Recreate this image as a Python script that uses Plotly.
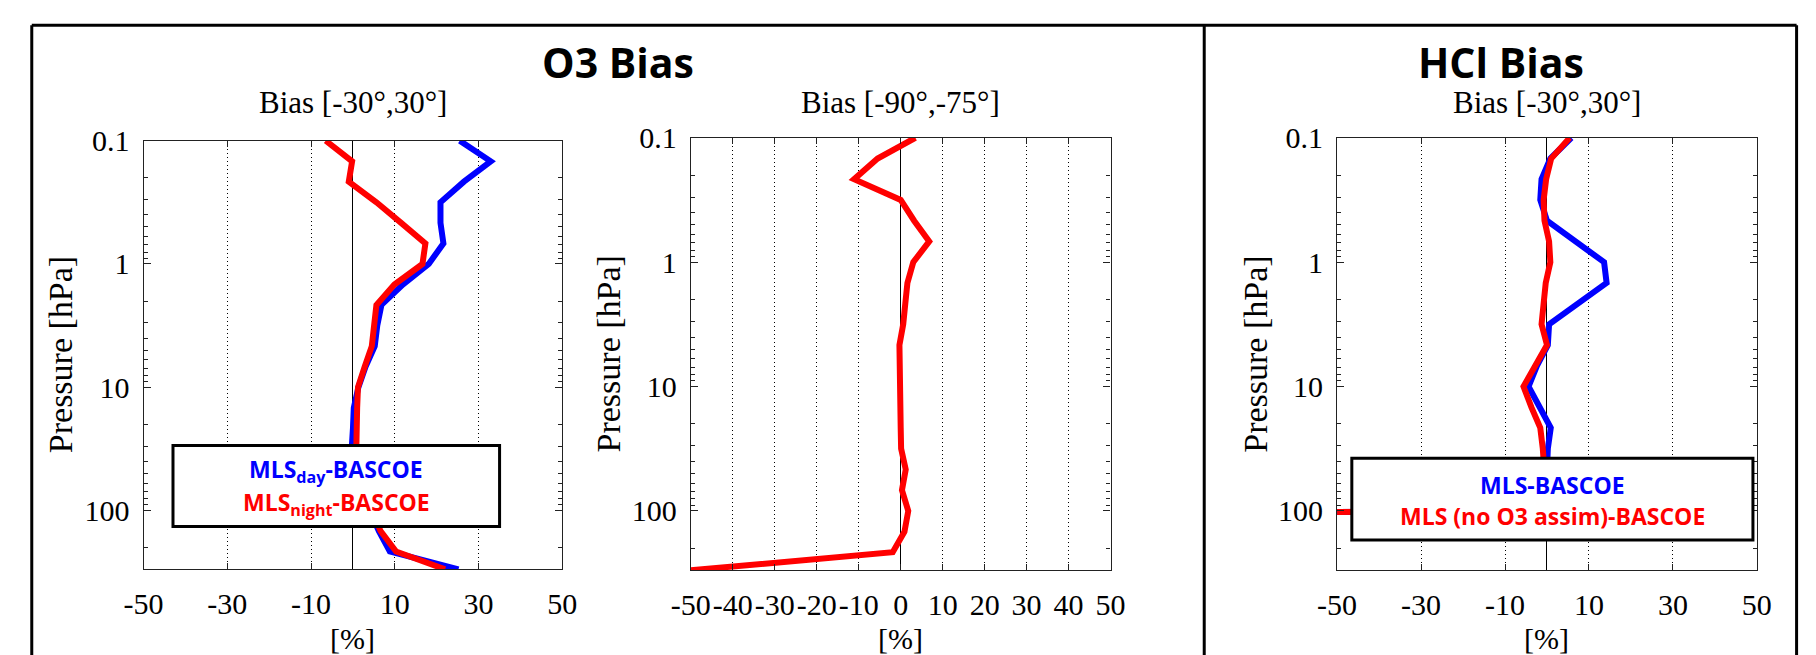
import numpy as np
import plotly.graph_objects as go

W, H = 1816, 655

# ---------------- data ----------------
pressure = [0.1, 0.147, 0.215, 0.316, 0.464, 0.681, 1.0, 1.47, 2.15, 3.16, 4.64,
            6.81, 10, 14.7, 21.5, 31.6, 46.4, 68.1, 100, 147, 215, 300]

# O3 bias, tropics [-30,30]
o3_trop_day = [25.5, 32.9, 26.5, 20.9, 20.9, 21.6, 18.1, 11.9, 6.8, 5.8, 5.2,
               3.0, 1.3, 0.2, 0.0, -0.3, 0.5, 2.0, 4.0, 6.2, 8.8, 25.2]
o3_trop_night = [-6.5, -0.2, -1.0, 5.6, 11.5, 17.3, 16.6, 9.9, 5.6, 5.2, 4.5,
                 2.8, 1.2, 1.0, 1.0, 0.8, 1.2, 2.5, 4.5, 6.6, 10.3, 22.0]

# O3 bias, south pole [-90,-75]
o3_pole = [3.5, -5.5, -11.1, 0.0, 3.2, 6.8, 3.0, 1.6, 1.1, 0.6, -0.3,
           -0.3, -0.2, -0.2, 0.0, 0.1, 1.2, 0.3, 1.8, 0.9, -1.9, -50.0]

# HCl bias, tropics [-30,30]
hcl_pressure = pressure[:20]
hcl_mls = [5.8, 0.8, -1.3, -1.6, 0.0, 6.6, 13.6, 14.2, 7.5, 0.5, 0.2,
           -2.4, -4.4, -1.9, 0.9, 0.2, 0.0, 0.2, 0.0, -999]
hcl_noo3 = [5.4, 1.0, -0.2, -0.8, -0.6, 0.5, 0.8, -0.3, -0.8, -1.3, 0.0,
            -2.8, -5.6, -3.7, -1.6, -1.0, -0.5, -0.3, -0.5, -999]

ticks_sparse = [-50, -30, -10, 10, 30, 50]
ticks_dense = [-50, -40, -30, -20, -10, 0, 10, 20, 30, 40, 50]
p_ticks = [0.1, 1, 10, 100]
p_ticktext = ["0.1", "1", "10", "100"]
p_minor = [m * 10.0 ** e for e in (-1, 0, 1) for m in range(2, 10)] + [200, 300]

subtitles = ["Bias [-30°,30°]", "Bias [-90°,-75°]", "Bias [-30°,30°]"]
group_titles = ["O3 Bias", "HCl Bias"]
legend1 = ["MLS<sub>day</sub>-BASCOE", "MLS<sub>night</sub>-BASCOE"]
legend3 = ["MLS-BASCOE", "MLS (no O3 assim)-BASCOE"]

BLUE = "#0000FF"
RED = "#FF0000"
SERIF = "Liberation Serif, Times New Roman, serif"
SANS = "Open Sans, Noto Sans, sans-serif"

# ---------------- layout helpers (pixel -> paper) ----------------
def px(x):
    return x / W

def py(y):
    return 1 - y / H

panels = [
    dict(x0=126, x1=553, y0=127, y1=567, ticks=ticks_sparse),
    dict(x0=684, x1=1112, y0=124, y1=568, ticks=ticks_dense),
    dict(x0=1343, x1=1771, y0=124, y1=568, ticks=ticks_sparse),
]

fig = go.Figure()

series = [
    (1, pressure, o3_trop_day, BLUE),
    (1, pressure, o3_trop_night, RED),
    (2, pressure, o3_pole, RED),
    (3, hcl_pressure, hcl_mls, BLUE),
    (3, hcl_pressure, hcl_noo3, RED),
]
for k, p, v, c in series:
    sfx = "" if k == 1 else str(k)
    fig.add_trace(go.Scatter(x=v, y=p, mode="lines", line=dict(color=c, width=6),
                             xaxis="x" + sfx, yaxis="y" + sfx, showlegend=False,
                             hoverinfo="skip"))

axis_line = "#222222"
for i, pn in enumerate(panels, start=1):
    sfx = "" if i == 1 else str(i)
    fig.layout["xaxis" + sfx] = dict(
        domain=[px(pn["x0"]), px(pn["x1"])], anchor="y" + sfx,
        range=[-50, 50], tickvals=pn["ticks"], ticktext=[str(t) for t in pn["ticks"]],
        ticks="inside", ticklen=6, tickcolor=axis_line, tickwidth=1, tickangle=0,
        showline=True, linecolor=axis_line, linewidth=1.2, mirror="ticks",
        showgrid=True, gridcolor="#000000", gridwidth=1, griddash="1px,3px",
        zeroline=True, zerolinecolor="#000000", zerolinewidth=1.2,
        tickfont=dict(family=SERIF, size=30, color="black"),
        ticklabelstandoff=8,
        fixedrange=True,
    )
    fig.layout["yaxis" + sfx] = dict(
        domain=[py(pn["y1"]), py(pn["y0"])], anchor="x" + sfx,
        type="log", range=[np.log10(300), -1],
        tickvals=p_ticks, ticktext=p_ticktext,
        ticks="inside", ticklen=7, tickcolor=axis_line, tickwidth=1,
        minor=dict(tickvals=p_minor, ticks="inside", ticklen=4, tickcolor=axis_line,
                   showgrid=False),
        showline=True, linecolor=axis_line, linewidth=1.2, mirror="ticks",
        showgrid=False, zeroline=False,
        tickfont=dict(family=SERIF, size=30, color="black"),
        ticklabelstandoff=7,
        fixedrange=True,
    )

ann = []
# group titles
for t, xc in zip(group_titles, [610, 1510]):
    ann.append(dict(text="<b>" + t + "</b>", x=px(xc), y=py(46), xref="paper", yref="paper",
                    showarrow=False, xanchor="center", yanchor="middle",
                    font=dict(family=SANS, size=41, color="black")))
# subtitles, x labels, y labels
for pn, st in zip(panels, subtitles):
    xc = (pn["x0"] + pn["x1"]) / 2
    yc = (pn["y0"] + pn["y1"]) / 2
    ann.append(dict(text=st, x=px(xc), y=py(88), xref="paper", yref="paper",
                    showarrow=False, xanchor="center", yanchor="middle",
                    font=dict(family=SERIF, size=31, color="black")))
    ann.append(dict(text="[%]", x=px(xc), y=py(638), xref="paper", yref="paper",
                    showarrow=False, xanchor="center", yanchor="middle",
                    font=dict(family=SERIF, size=30, color="black")))
    ann.append(dict(text="Pressure [hPa]", x=px(pn["x0"] - 84), y=py(yc), xref="paper",
                    yref="paper", showarrow=False, xanchor="center", yanchor="middle",
                    textangle=-90, font=dict(family=SERIF, size=34, color="black")))

# legend texts
for txt, col, yc in zip(legend1, [BLUE, RED], [466, 499]):
    ann.append(dict(text="<b>" + txt + "</b>", x=px(322.5), y=py(yc), xref="paper",
                    yref="paper", showarrow=False, xanchor="center", yanchor="middle",
                    font=dict(family=SANS, size=23, color=col)))
for txt, col, yc in zip(legend3, [BLUE, RED], [480, 512]):
    ann.append(dict(text="<b>" + txt + "</b>", x=px(1562.5), y=py(yc), xref="paper",
                    yref="paper", showarrow=False, xanchor="center", yanchor="middle",
                    font=dict(family=SANS, size=23, color=col)))

shapes = [
    # legend boxes
    dict(type="rect", xref="paper", yref="paper", x0=px(156), x1=px(489), y0=py(523), y1=py(440),
         line=dict(color="black", width=3), fillcolor="white", layer="above"),
    dict(type="rect", xref="paper", yref="paper", x0=px(1358), x1=px(1767), y0=py(537), y1=py(453),
         line=dict(color="black", width=3), fillcolor="white", layer="above"),
    # outer frame
    dict(type="line", xref="paper", yref="paper", x0=px(12), x1=px(1811.5), y0=py(8.5), y1=py(8.5),
         line=dict(color="black", width=3)),
    dict(type="line", xref="paper", yref="paper", x0=px(12), x1=px(12), y0=py(8.5), y1=py(700),
         line=dict(color="black", width=3)),
    dict(type="line", xref="paper", yref="paper", x0=px(1811.5), x1=px(1811.5), y0=py(8.5), y1=py(700),
         line=dict(color="black", width=3)),
    dict(type="line", xref="paper", yref="paper", x0=px(1207.5), x1=px(1207.5), y0=py(8.5), y1=py(700),
         line=dict(color="black", width=3)),
]

fig.update_layout(
    width=W, height=H, margin=dict(l=0, r=0, t=0, b=0),
    paper_bgcolor="white", plot_bgcolor="white",
    annotations=ann, shapes=shapes, showlegend=False,
)

fig.write_html("out.html", config={"displayModeBar": False})
